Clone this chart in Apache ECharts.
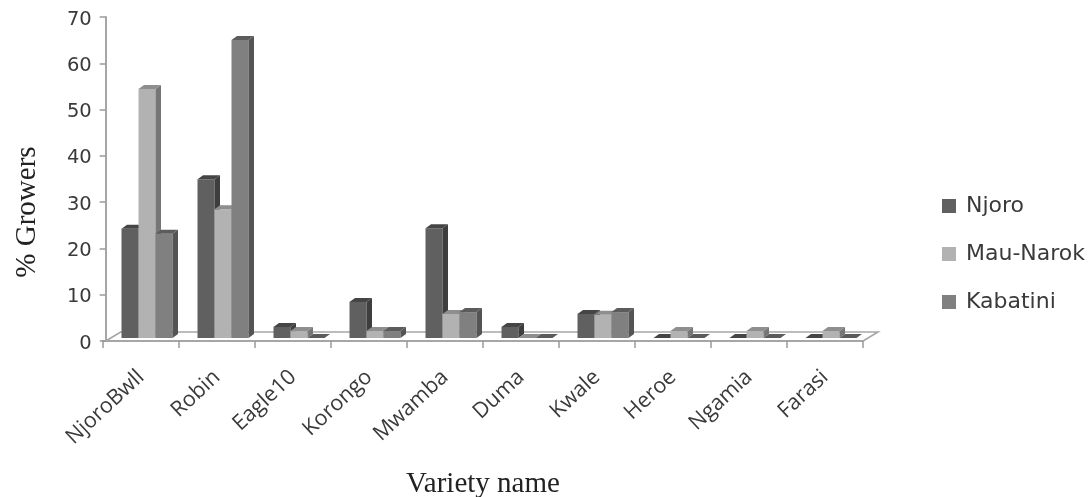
<!DOCTYPE html>
<html><head><meta charset="utf-8">
<style>html,body{margin:0;padding:0;background:#fff}#c{width:1092px;height:497px}</style>
<script src="https://cdn.jsdelivr.net/npm/echarts@6/dist/echarts.min.js"></script>
</head><body><div id="c"></div>
<script>
const categories = ['NjoroBwll','Robin','Eagle10','Korongo','Mwamba','Duma','Kwale','Heroe','Ngamia','Farasi'];
const njoro    = [23.6,34.3,2.4,7.8,23.7,2.4,5.2,0,0,0];
const mauNarok = [53.8,27.8,1.5,1.5,5.2,0,5,1.5,1.5,1.5];
const kabatini = [22.5,64.4,0,1.5,5.6,0,5.6,0,0,0];

const BAR_W = 17, DX = 5.5, DY = 4, BASE_UP = 3, GROUP_SHIFT = 6;
const FLOOR_DX = 15, FLOOR_DY = 9;

function bar3d(front, top, side, slot){
  return function(params, api){
    const p = api.coord([api.value(0), api.value(1)]);
    const p0 = api.coord([api.value(0), 0]);
    const l = p[0] + GROUP_SHIFT + (slot - 1.5) * BAR_W;
    const r = l + BAR_W;
    const b = p0[1] - BASE_UP;
    const t = p[1] - BASE_UP;
    const children = [];
    if (b - t > 0.2) {
      children.push({type:'rect', shape:{x:l,y:t,width:BAR_W,height:b-t}, style:{fill:front}});
    }
    children.push({type:'polygon', shape:{points:[[r,t],[r+DX,t-DY],[r+DX,b-DY],[r,b]]}, style:{fill:side}});
    children.push({type:'polygon', shape:{points:[[l,t],[l+DX,t-DY],[r+DX,t-DY],[r,t]]}, style:{fill:top}});
    return {type:'group', children};
  };
}
function floor(params){
  const c = params.coordSys;
  const x0 = c.x + 2.7, x1 = c.x + c.width, y = c.y + c.height;
  return {type:'polyline', shape:{points:[[x0,y],[x0+FLOOR_DX,y-FLOOR_DY],[x1+FLOOR_DX,y-FLOOR_DY],[x1,y]]},
    style:{fill:null, stroke:'#a6a6a6', lineWidth:1.6}};
}
const toData = a => a.map((v,i)=>[i,v]);
const mk = (name, arr, front, top, side, slot) => ({
  name, type:'custom', z:3, coordinateSystem:'cartesian2d', data:toData(arr),
  encode:{x:0,y:1}, itemStyle:{color:front},
  renderItem:bar3d(front, top, side, slot), silent:true, clip:false
});
const chart = echarts.init(document.getElementById('c'), null, {renderer:'canvas'});
chart.setOption({
  animation:false,
  backgroundColor:'#fff',
  grid:{left:103, right:229, top:17, bottom:156, outerBoundsMode:'none'},
  legend:{
    orient:'vertical', left:942, top:195, padding:0, itemWidth:14, itemHeight:14, itemGap:26, icon:'rect',
    data:['Njoro','Mau-Narok','Kabatini'], itemStyle:{borderWidth:0},
    textStyle:{fontFamily:'DejaVu Sans', fontSize:22, color:'#3a3a3a', padding:[0,0,0,5], lineHeight:20}
  },
  xAxis:{
    type:'category', data:categories, boundaryGap:true,
    name:'Variety name', nameLocation:'middle', nameGap:129,
    nameTextStyle:{fontFamily:'Liberation Serif', fontSize:29, color:'#222'},
    axisLine:{lineStyle:{color:'#a6a6a6', width:2}},
    axisTick:{show:true, length:7, lineStyle:{color:'#9a9a9a', width:1.5}},
    axisLabel:{rotate:43, interval:0, margin:33, padding:[9,0,0,0], fontFamily:'Open Sans', fontSize:21.5, color:'#3a3a3a'}
  },
  yAxis:{
    type:'value', min:0, max:70, interval:10, offset:-2.7,
    name:'% Growers', nameLocation:'middle', nameGap:64,
    nameTextStyle:{fontFamily:'Liberation Serif', fontSize:29, color:'#222', padding:[0,66,0,0]},
    axisLine:{show:true, lineStyle:{color:'#a6a6a6', width:2}},
    axisTick:{show:true, length:6, lineStyle:{color:'#9a9a9a', width:1.5}},
    axisLabel:{margin:14, verticalAlign:'top', padding:[-7.5,0,0,0], fontFamily:'DejaVu Sans', fontSize:19.5, color:'#3a3a3a'},
    splitLine:{show:false}
  },
  series:[
    {type:'custom', z:1, coordinateSystem:'cartesian2d', data:[[0,0]], encode:{x:0,y:1}, renderItem:floor, silent:true, clip:false},
    mk('Njoro', njoro, '#606060', '#454545', '#3e3e3e', 0),
    mk('Mau-Narok', mauNarok, '#b2b2b2', '#8e8e8e', '#767676', 1),
    mk('Kabatini', kabatini, '#808080', '#5c5c5c', '#545454', 2)
  ]
});
</script></body></html>
